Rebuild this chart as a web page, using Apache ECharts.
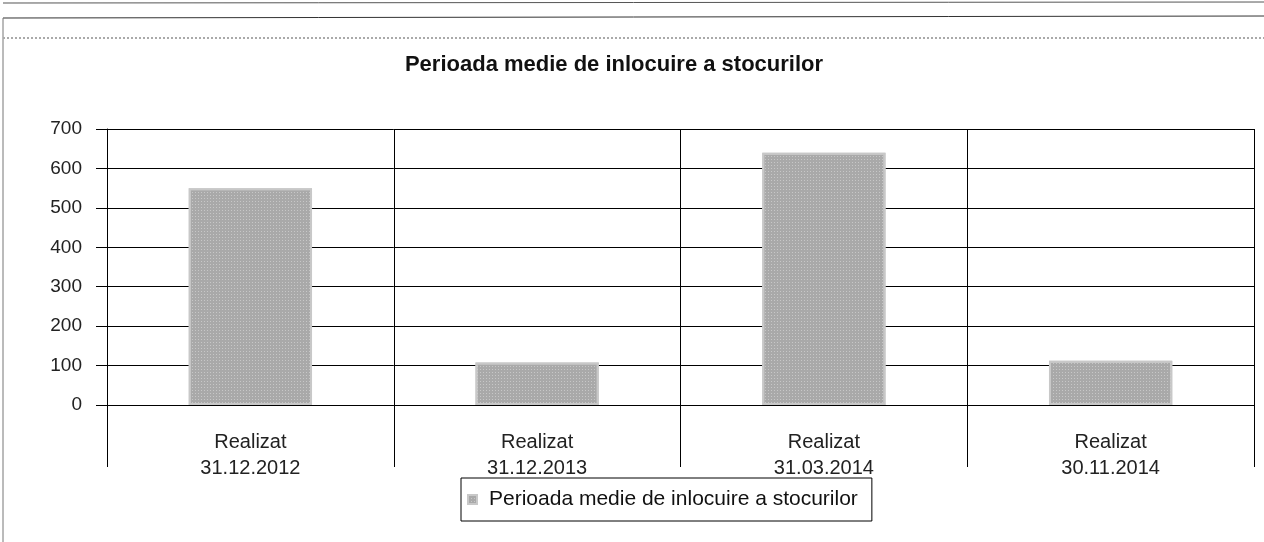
<!DOCTYPE html>
<html>
<head>
<meta charset="utf-8">
<title>Perioada medie de inlocuire a stocurilor</title>
<script src="https://cdn.jsdelivr.net/npm/echarts@6/dist/echarts.min.js"></script>
<style>
  html, body { margin: 0; padding: 0; background: #fff; }
  #chart { width: 1264px; height: 542px; }
</style>
</head>
<body>
<div id="chart"></div>
<script>
// date
const categories = ['Realizat\n31.12.2012', 'Realizat\n31.12.2013', 'Realizat\n31.03.2014', 'Realizat\n30.11.2014']
const seriesName = 'Perioada medie de inlocuire a stocurilor'
const values = [550, 108, 640, 112]
const yTicks = [0, 700, 100] // min, max, interval

const chart = echarts.init(document.getElementById('chart'))
const font = '"Liberation Sans", Arial, sans-serif'

const option = {
  backgroundColor: '#fff',
  animation: false,
  textStyle: { fontFamily: font },
  title: {
    text: seriesName,
    left: 614,
    textAlign: 'center',
    top: 54,
    padding: 0,
    textStyle: { fontSize: 22, fontWeight: 'bold', color: '#111', fontFamily: font }
  },
  // cadrul foii scanate
  graphic: [
    { type: 'line', shape: { x1: 3, y1: 18, x2: 1264, y2: 16 }, style: { stroke: '#333', lineWidth: 1 } },
    { type: 'line', shape: { x1: 3, y1: 18, x2: 3, y2: 542 }, style: { stroke: '#777', lineWidth: 1 } },
    { type: 'line', shape: { x1: 3, y1: 3, x2: 1264, y2: 2 }, style: { stroke: '#555', lineWidth: 1 } },
    { type: 'line', shape: { x1: 3, y1: 38, x2: 1264, y2: 38 }, style: { stroke: '#aaa', lineWidth: 2, lineDash: [2, 2] } }
  ],
  legend: {
    left: 461,
    top: 478,
    padding: [11, 14, 11, 6],
    borderColor: '#000',
    borderWidth: 1,
    icon: 'rect',
    itemWidth: 9,
    itemHeight: 9,
    textStyle: { fontSize: 21, color: '#111', fontFamily: font, padding: [0, 0, 0, 7] },
    data: [seriesName]
  },
  grid: {
    left: 107,
    right: 10,
    top: 129,
    bottom: 137
  },
  xAxis: {
    type: 'category',
    data: categories,
    boundaryGap: true,
    axisLine: { show: true, lineStyle: { color: '#000', width: 1 } },
    axisTick: { show: true, length: 62, lineStyle: { color: '#000' } },
    axisLabel: {
      margin: 24,
      fontSize: 20,
      lineHeight: 26,
      color: '#222',
      fontFamily: font
    },
    splitLine: { show: true, lineStyle: { color: '#000', width: 1 } }
  },
  yAxis: {
    type: 'value',
    min: yTicks[0],
    max: yTicks[1],
    interval: yTicks[2],
    axisLine: { show: true, lineStyle: { color: '#000' } },
    axisTick: { show: true, length: 11, lineStyle: { color: '#000' } },
    axisLabel: { margin: 25, fontSize: 19, color: '#222', fontFamily: font },
    splitLine: { show: true, lineStyle: { color: '#000', width: 1 } }
  },
  series: [
    {
      name: seriesName,
      type: 'bar',
      data: values,
      barWidth: '43%',
      itemStyle: {
        color: '#a9a9a9',
        borderColor: '#c8c8c8',
        borderWidth: 2,
        // textura punctata ca la scanare
        decal: {
          symbol: 'rect',
          symbolSize: 1,
          dashArrayX: [1, 2],
          dashArrayY: [1, 2],
          color: 'rgba(255, 255, 255, 0.35)'
        }
      }
    }
  ]
}

chart.setOption(option)
</script>
</body>
</html>
